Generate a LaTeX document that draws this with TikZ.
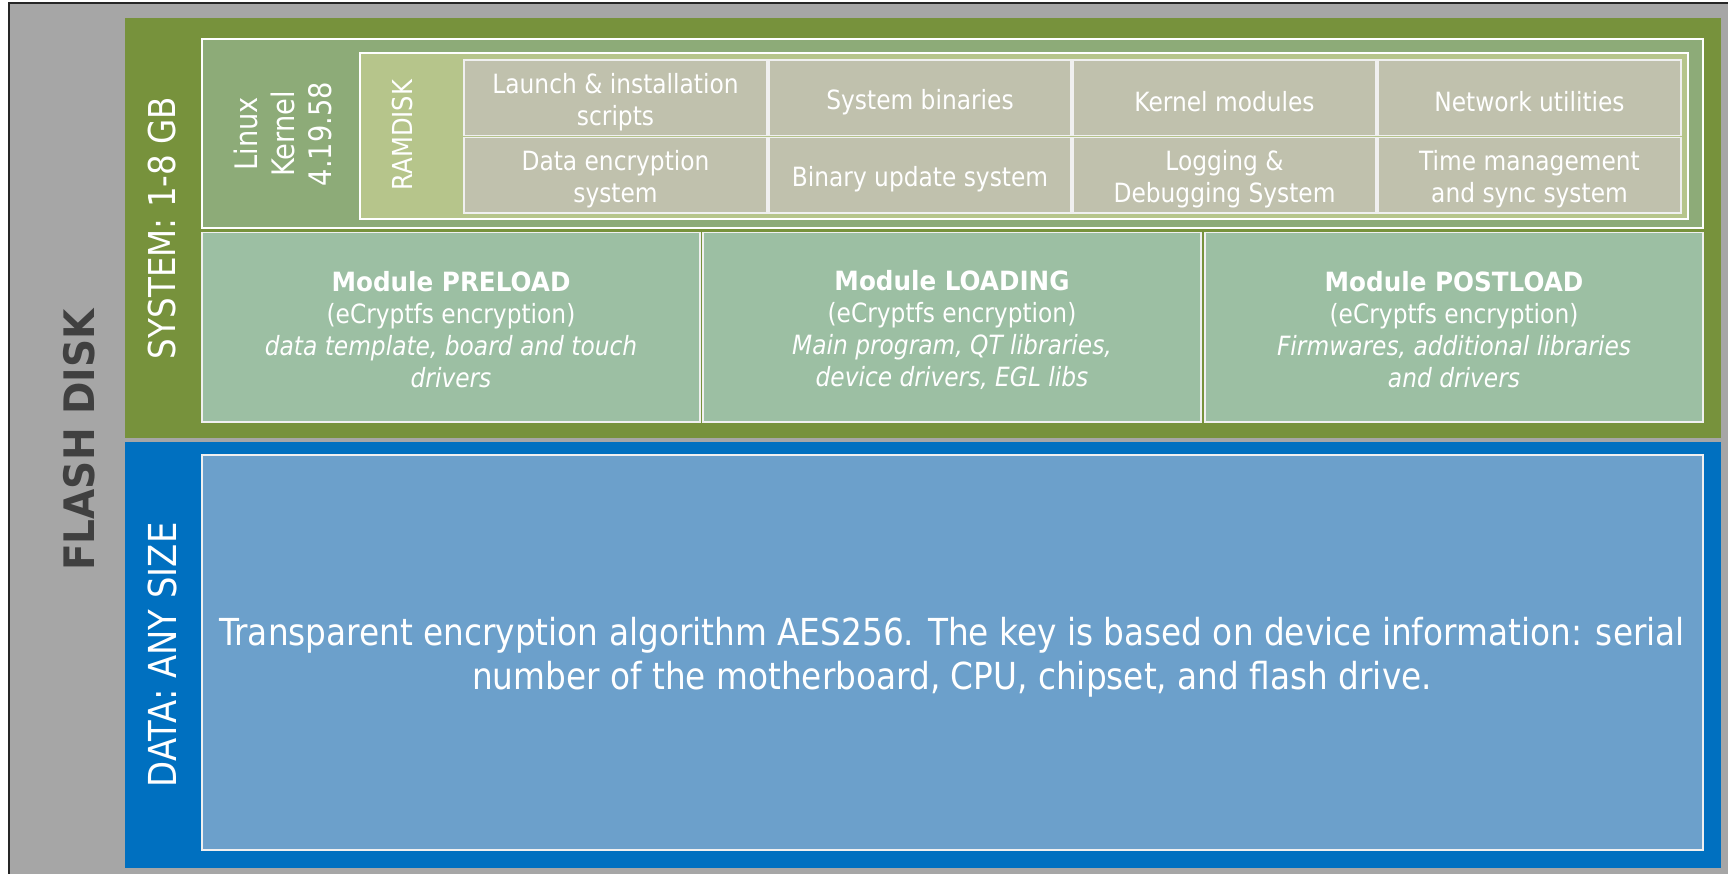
\documentclass[tikz,border=0pt]{standalone}
\usepackage{fontspec}
\setmainfont{DejaVu Sans}[FakeStretch=0.88, BoldFeatures={FakeStretch=0.93}]
\definecolor{flashgray}{HTML}{A6A6A6}
\definecolor{sysgreen}{HTML}{77923C}
\definecolor{kernelgreen}{HTML}{8DAB78}
\definecolor{ramgreen}{HTML}{B6C58B}
\definecolor{cellgray}{HTML}{C0C1AD}
\definecolor{modgreen}{HTML}{9CBFA3}
\definecolor{datablue}{HTML}{0070C0}
\definecolor{innerblue}{HTML}{6CA0CB}
\definecolor{flashtext}{HTML}{404040}
\begin{document}
\begin{tikzpicture}[x=1pt,y=-1pt,
  lbl/.style={text=white, align=center, inner sep=0pt},
  celltext/.style={lbl, font=\fontsize{26.5}{32}\selectfont},
  bigrot/.style={lbl, rotate=90, font=\fontsize{37}{44}\selectfont},
  framebox/.style={draw=white, line width=1.6pt},
  thinbox/.style={draw=white!94!black, line width=1.3pt}]
\fill[white] (0,0) rectangle (1728,873);
\useasboundingbox (0,0) rectangle (1728,873);
\clip (0,0) rectangle (1728,873);
% flash disk
\fill[flashgray] (9,3) rectangle (1745,890);
\draw[line width=2.5pt, black!85] (9,890) -- (9,3) -- (1745,3);
% system and data regions
\fill[sysgreen] (125,17.5) rectangle (1721,438);
\fill[datablue] (125,442) rectangle (1721,868);
% kernel
\path[fill=kernelgreen, framebox] (202,39) rectangle (1703,228);
\path[fill=ramgreen, framebox] (360,53) rectangle (1688,219);
% cells
\foreach \xa/\xb in {464/767, 769/1071, 1073/1376, 1378/1681}{
  \path[fill=cellgray, thinbox] (\xa,60) rectangle (\xb,135.5);
  \path[fill=cellgray, thinbox] (\xa,137.5) rectangle (\xb,213);
}
% modules
\foreach \xa/\xb in {202/700, 703/1201, 1205/1703}{
  \path[fill=modgreen, thinbox] (\xa,232.5) rectangle (\xb,422);
}
% data box
\path[fill=innerblue, thinbox] (202,455) rectangle (1703,850);

% texts
\node[lbl, rotate=90, text=flashtext, font=\bfseries\fontsize{42}{50}\selectfont] (flash) at (79,440) {FLASH DISK};
\node[bigrot] (sys) at (162,228) {SYSTEM: 1-8 GB};
\node[bigrot, font=\fontsize{38.5}{44}\selectfont] (data) at (162,655) {DATA: ANY SIZE};
\node[lbl, rotate=90, font=\fontsize{31}{37}\selectfont] (kernel) at (283,134) {Linux\\Kernel\\4.19.58};
\node[lbl, rotate=90, font=\fontsize{27.5}{31}\selectfont] (ramdisk) at (402,135) {RAMDISK};

\node[celltext] (c11) at (615.5,102) {Launch \& installation\\scripts};
\node[celltext] (c12) at (920,102) {System binaries};
\node[celltext] (c13) at (1224.5,102) {Kernel modules};
\node[celltext] (c14) at (1529.5,102) {Network utilities};
\node[celltext] (c21) at (615.5,179) {Data encryption\\system};
\node[celltext] (c22) at (920,179) {Binary update system};
\node[celltext] (c23) at (1224.5,179) {Logging \&\\Debugging System};
\node[celltext] (c24) at (1529.5,179) {Time management\\and sync system};

\node[celltext] (preload) at (451,330) {\textbf{Module PRELOAD}\\(eCryptfs encryption)\\\textit{data template, board and touch}\\\textit{drivers}};
\node[celltext] (loading) at (952,330) {\textbf{Module LOADING}\\(eCryptfs encryption)\\\textit{Main program, QT libraries,}\\\textit{device drivers, EGL libs}};
\node[celltext] (postload) at (1454,330) {\textbf{Module POSTLOAD}\\(eCryptfs encryption)\\\textit{Firmwares, additional libraries}\\\textit{and drivers}};

\node[lbl, font=\fontsize{37.2}{44}\selectfont] (aes) at (952,657) {Transparent encryption algorithm AES256. The key is based on device information: serial\\number of the motherboard, CPU, chipset, and flash drive.};
\end{tikzpicture}
\end{document}
